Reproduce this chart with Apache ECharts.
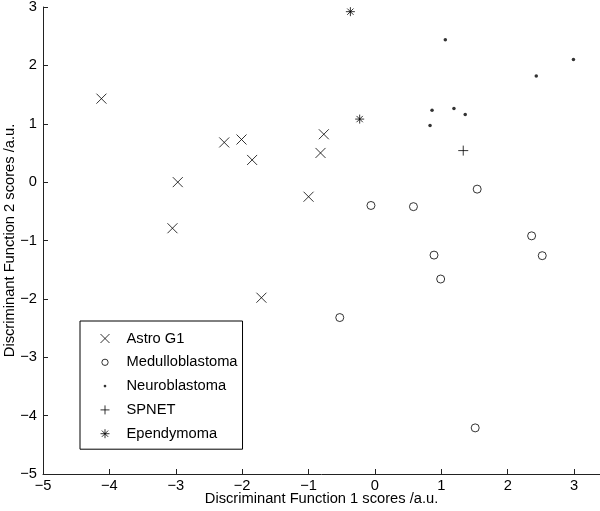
<!DOCTYPE html>
<html>
<head>
<meta charset="utf-8">
<script src="https://cdn.jsdelivr.net/npm/echarts@6/dist/echarts.min.js"></script>
<style>
  html, body { margin: 0; padding: 0; background: #fff; }
  #chart { width: 600px; height: 511px; }
</style>
</head>
<body>
<div id="chart"></div>
<script>
// discriminant scores, [DF1, DF2]
var astroG1 = [[-4.12, 1.43], [-2.97, 0.0], [-3.05, -0.79], [-2.27, 0.68], [-2.01, 0.73],
               [-1.85, 0.38], [-0.77, 0.82], [-0.82, 0.50], [-1.0, -0.25], [-1.71, -1.98]];
var medulloblastoma = [[-0.06, -0.40], [0.58, -0.42], [1.54, -0.12], [2.36, -0.92], [0.89, -1.25],
                       [2.52, -1.26], [0.99, -1.66], [-0.53, -2.32], [1.51, -4.21]];
var neuroblastoma = [[1.06, 2.44], [2.99, 2.10], [2.43, 1.82], [0.86, 1.23], [1.19, 1.26],
                     [1.36, 1.16], [0.83, 0.97]];
var spnet = [[1.33, 0.54]];
var ependymoma = [[-0.37, 2.92], [-0.23, 1.08]];

var xTicks = [-5, -4, -3, -2, -1, 0, 1, 2, 3];
var yTicks = [-5, -4, -3, -2, -1, 0, 1, 2, 3];

var FONT = '"Liberation Sans", Arial, Helvetica, sans-serif';
var FS = 14.7;

// line symbols are drawn by the stroke only
var crossPath = 'path://M0 0L10 10M10 0L0 10';
var plusPath = 'path://M5 0L5 10M0 5L10 5';
var starPath = 'path://M5 0L5 10M0 5L10 5M1.5 1.5L8.5 8.5M8.5 1.5L1.5 8.5';
// small dot inside an empty 10x10 box, so the legend keeps it small
var dotPath = 'path://M0 0M10 10M5 3.5A1.5 1.5 0 1 1 5 6.5A1.5 1.5 0 1 1 5 3.5Z';
// ring with some empty margin, legend circle is a bit smaller than the box
var ringPath = 'path://M0 0M10 10M5 1.5A3.5 3.5 0 1 1 5 8.5A3.5 3.5 0 1 1 5 1.5Z';

var strokeOnly = { color: 'rgba(0,0,0,0)', borderColor: '#000', borderWidth: 1 };

function minus(v) { return String(v).replace('-', '\u2212'); }

var chart = echarts.init(document.getElementById('chart'));

var option = {
    animation: false,
    grid: { left: 43, right: 0, top: 7, bottom: 37, outerBoundsMode: 'none', containLabel: false },
    legend: {
        orient: 'vertical',
        left: 80,
        top: 321,
        padding: [10, 5, 8, 20],
        itemGap: 8.8,
        itemWidth: 9,
        itemHeight: 9,
        borderColor: '#000',
        borderWidth: 1,
        backgroundColor: '#fff',
        itemStyle: { borderWidth: 1 },
        textStyle: { fontFamily: FONT, fontSize: FS, color: '#000', padding: [0, 0, 0, 12] },
        data: [
            { name: 'Astro G1', icon: crossPath, itemStyle: strokeOnly },
            { name: 'Medulloblastoma', icon: ringPath, itemStyle: strokeOnly },
            { name: 'Neuroblastoma', icon: dotPath, itemStyle: { color: '#000', borderWidth: 0 } },
            { name: 'SPNET', icon: plusPath, itemStyle: strokeOnly },
            { name: 'Ependymoma', icon: starPath, itemStyle: strokeOnly }
        ]
    },
    xAxis: {
        type: 'value',
        min: -5,
        max: 3.39,
        interval: 1,
        name: 'Discriminant Function 1 scores /a.u.',
        nameLocation: 'middle',
        nameGap: 17,
        nameMoveOverlap: false,
        nameTextStyle: { fontFamily: FONT, fontSize: FS, color: '#000' },
        axisLine: { onZero: false, lineStyle: { color: '#222', width: 1 } },
        axisTick: { inside: true, length: 5, customValues: xTicks, lineStyle: { color: '#222' } },
        axisLabel: { customValues: xTicks, margin: 4, fontFamily: FONT, fontSize: FS, color: '#000', formatter: minus },
        splitLine: { show: false }
    },
    yAxis: {
        type: 'value',
        min: -5,
        max: 3,
        interval: 1,
        name: 'Discriminant Function 2 scores /a.u.',
        nameLocation: 'middle',
        nameGap: 26,
        nameMoveOverlap: false,
        nameRotate: 90,
        nameTextStyle: { fontFamily: FONT, fontSize: FS, color: '#000' },
        axisLine: { show: true, onZero: false, lineStyle: { color: '#222', width: 1 } },
        axisTick: { show: true, inside: true, length: 5, customValues: yTicks, lineStyle: { color: '#222' } },
        axisLabel: { customValues: yTicks, margin: 6, fontFamily: FONT, fontSize: FS, color: '#000', formatter: minus },
        splitLine: { show: false }
    },
    series: [
        { name: 'Astro G1', type: 'scatter', data: astroG1, symbol: crossPath, symbolSize: 10, itemStyle: strokeOnly },
        { name: 'Medulloblastoma', type: 'scatter', data: medulloblastoma, symbol: 'circle', symbolSize: 8, itemStyle: strokeOnly },
        { name: 'Neuroblastoma', type: 'scatter', data: neuroblastoma, symbol: 'circle', symbolSize: 3.5, itemStyle: { color: '#000' } },
        { name: 'SPNET', type: 'scatter', data: spnet, symbol: plusPath, symbolSize: 10, itemStyle: strokeOnly },
        { name: 'Ependymoma', type: 'scatter', data: ependymoma, symbol: starPath, symbolSize: 9, itemStyle: strokeOnly }
    ]
};

chart.setOption(option);
</script>
</body>
</html>
